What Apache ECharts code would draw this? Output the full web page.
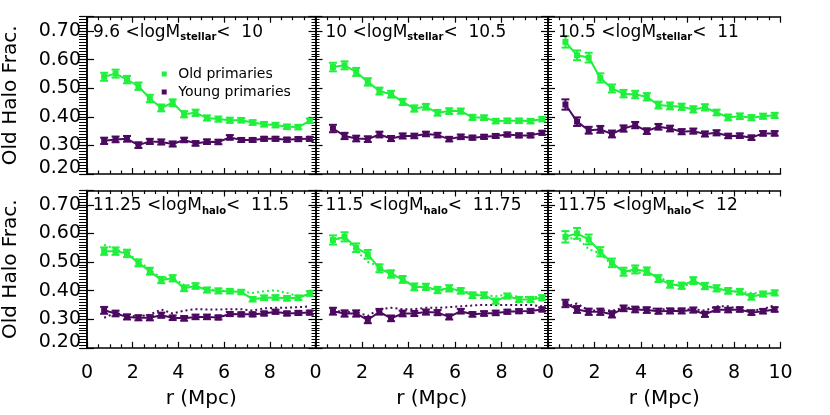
<!DOCTYPE html>
<html><head><meta charset="utf-8">
<script src="https://cdn.jsdelivr.net/npm/echarts@6/dist/echarts.min.js"></script>
<style>html,body{margin:0;padding:0;background:#fff}#c{width:830px;height:415px}</style>
</head><body><div id="c"></div>
<script>
// ---- data ----
const r = [0.75,1.25,1.75,2.25,2.75,3.25,3.75,4.25,4.75,5.25,5.75,6.25,6.75,7.25,7.75,8.25,8.75,9.25,9.75];
const xTicks = [0,2,4,6,8,10];
const yTicks = [0.20,0.30,0.40,0.50,0.60,0.70];

const oldP1 = [0.540,0.551,0.530,0.507,0.464,0.431,0.449,0.409,0.414,0.396,0.392,0.388,0.388,0.380,0.374,0.371,0.365,0.364,0.386];
const oldE1 = [0.014,0.014,0.013,0.013,0.013,0.012,0.012,0.011,0.011,0.009,0.009,0.009,0.008,0.008,0.008,0.008,0.008,0.008,0.008];
const youngP1 = [0.316,0.321,0.323,0.301,0.314,0.312,0.305,0.319,0.307,0.313,0.312,0.328,0.319,0.319,0.323,0.323,0.320,0.322,0.323];
const youngE1 = [0.011,0.010,0.010,0.010,0.009,0.009,0.009,0.008,0.008,0.008,0.008,0.008,0.007,0.007,0.007,0.007,0.007,0.007,0.007];

const oldP2 = [0.574,0.580,0.557,0.522,0.490,0.479,0.452,0.429,0.435,0.414,0.420,0.420,0.398,0.397,0.385,0.386,0.386,0.385,0.392];
const oldE2 = [0.015,0.014,0.014,0.013,0.012,0.012,0.011,0.011,0.010,0.010,0.010,0.009,0.009,0.008,0.008,0.008,0.008,0.008,0.008];
const youngP2 = [0.359,0.333,0.324,0.322,0.338,0.324,0.333,0.333,0.340,0.336,0.322,0.330,0.327,0.330,0.333,0.338,0.335,0.335,0.344];
const youngE2 = [0.013,0.011,0.010,0.010,0.010,0.009,0.009,0.008,0.008,0.008,0.008,0.008,0.007,0.007,0.007,0.007,0.007,0.007,0.007];

const oldP3 = [0.662,0.615,0.607,0.536,0.499,0.481,0.478,0.470,0.441,0.438,0.435,0.426,0.433,0.415,0.398,0.402,0.397,0.402,0.405];
const oldE3 = [0.020,0.017,0.017,0.016,0.014,0.013,0.013,0.013,0.012,0.012,0.011,0.011,0.011,0.010,0.010,0.010,0.009,0.009,0.009];
const youngP3 = [0.443,0.383,0.353,0.356,0.340,0.359,0.371,0.350,0.365,0.359,0.348,0.350,0.340,0.344,0.333,0.334,0.327,0.342,0.342];
const youngE3 = [0.018,0.015,0.012,0.012,0.012,0.011,0.011,0.010,0.010,0.010,0.009,0.009,0.009,0.009,0.008,0.008,0.008,0.008,0.008];

const oldP4 = [0.538,0.538,0.530,0.497,0.468,0.437,0.443,0.408,0.416,0.402,0.399,0.398,0.395,0.370,0.375,0.376,0.373,0.375,0.390];
const oldD4 = [0.560,0.545,0.530,0.505,0.472,0.445,0.445,0.420,0.415,0.405,0.400,0.398,0.396,0.392,0.398,0.401,0.392,0.380,0.385];
const oldE4 = [0.013,0.013,0.013,0.012,0.012,0.011,0.011,0.010,0.010,0.009,0.009,0.008,0.008,0.008,0.008,0.008,0.008,0.008,0.008];
const youngP4 = [0.331,0.320,0.308,0.305,0.305,0.314,0.305,0.303,0.308,0.308,0.306,0.318,0.317,0.317,0.320,0.326,0.320,0.322,0.323];
const youngD4 = [0.305,0.322,0.312,0.310,0.316,0.334,0.320,0.330,0.335,0.334,0.334,0.335,0.335,0.330,0.338,0.340,0.340,0.342,0.345];
const youngE4 = [0.012,0.010,0.009,0.009,0.009,0.009,0.008,0.008,0.008,0.008,0.007,0.007,0.007,0.007,0.007,0.007,0.007,0.007,0.007];

const oldP5 = [0.577,0.588,0.550,0.527,0.478,0.458,0.439,0.413,0.413,0.402,0.408,0.399,0.384,0.384,0.363,0.381,0.369,0.369,0.375];
const oldD5 = [0.578,0.585,0.540,0.500,0.485,0.460,0.440,0.415,0.410,0.402,0.400,0.400,0.390,0.385,0.380,0.386,0.378,0.378,0.378];
const oldE5 = [0.016,0.016,0.015,0.015,0.014,0.013,0.012,0.012,0.011,0.011,0.011,0.010,0.010,0.010,0.009,0.009,0.009,0.009,0.009];
const youngP5 = [0.328,0.320,0.320,0.297,0.326,0.303,0.320,0.320,0.325,0.323,0.308,0.328,0.317,0.320,0.322,0.326,0.328,0.329,0.334];
const youngD5 = [0.330,0.325,0.325,0.312,0.335,0.340,0.335,0.335,0.340,0.340,0.342,0.345,0.348,0.350,0.350,0.350,0.350,0.350,0.345];
const youngE5 = [0.012,0.011,0.011,0.011,0.010,0.010,0.010,0.009,0.009,0.009,0.009,0.008,0.008,0.008,0.008,0.007,0.007,0.007,0.007];

const oldP6 = [0.588,0.600,0.579,0.536,0.497,0.466,0.474,0.468,0.442,0.422,0.417,0.435,0.416,0.408,0.399,0.396,0.378,0.388,0.392];
const oldD6 = [0.580,0.585,0.545,0.530,0.490,0.470,0.465,0.460,0.450,0.425,0.415,0.425,0.420,0.405,0.400,0.395,0.392,0.390,0.390];
const oldE6 = [0.020,0.019,0.017,0.016,0.015,0.014,0.014,0.013,0.012,0.012,0.011,0.012,0.011,0.011,0.010,0.010,0.010,0.009,0.009];
const youngP6 = [0.355,0.334,0.326,0.326,0.317,0.338,0.334,0.332,0.328,0.329,0.329,0.332,0.317,0.334,0.332,0.334,0.323,0.328,0.334];
const youngD6 = [0.345,0.355,0.330,0.330,0.330,0.340,0.340,0.340,0.335,0.335,0.335,0.335,0.330,0.345,0.345,0.335,0.330,0.335,0.350];
const youngE6 = [0.013,0.012,0.011,0.011,0.011,0.010,0.010,0.010,0.009,0.009,0.009,0.009,0.009,0.008,0.008,0.008,0.008,0.008,0.008];

const panelLo = ['9.6','10','10.5','11.25','11.5','11.75'];
const panelHi = ['10','10.5','11','11.5','11.75','12'];
const panelSub = ['stellar','stellar','stellar','halo','halo','halo'];
const seriesNames = ['Old primaries','Young primaries'];
const yTitle = 'Old Halo Frac.';
const xTitle = 'r (Mpc)';

// ---- styling / layout ----
const GREEN = '#1ff03c', PURPLE = '#4b0a5f';
const FONT = 'DejaVu Sans';
const colLeft = [83, 315.5, 548], colW = 232.5;
const rowTop = [16.7, 190.5], rowH = 157.3;

const panels = [
  {old:oldP1, oldE:oldE1, young:youngP1, youngE:youngE1},
  {old:oldP2, oldE:oldE2, young:youngP2, youngE:youngE2},
  {old:oldP3, oldE:oldE3, young:youngP3, youngE:youngE3},
  {old:oldP4, oldE:oldE4, young:youngP4, youngE:youngE4, oldD:oldD4, youngD:youngD4},
  {old:oldP5, oldE:oldE5, young:youngP5, youngE:youngE5, oldD:oldD5, youngD:youngD5},
  {old:oldP6, oldE:oldE6, young:youngP6, youngE:youngE6, oldD:oldD6, youngD:youngD6}
];

const grid = [], xAxis = [], yAxis = [], series = [], title = [];
const axLine = {show:true, lineStyle:{color:'#000', width:1.5}};

panels.forEach((p, g) => {
  const col = g % 3, row = Math.floor(g / 3);
  const rect = {left: colLeft[col], top: rowTop[row], width: colW, height: rowH};
  grid.push(Object.assign({}, rect), Object.assign({}, rect));
  const gi = 2 * g, go = 2 * g + 1;
  const xBase = {gridIndex: gi, type:'value', min: xTicks[0], max: xTicks[xTicks.length-1], interval: 2,
    axisLine: axLine, splitLine:{show:false},
    axisTick:{show:true, inside:true, length:6, lineStyle:{color:'#000', width:1.2}},
    minorTick:{show:true, splitNumber:4, length:3.5, lineStyle:{color:'#000', width:1.2}}};
  xAxis.push(Object.assign({}, xBase, {position:'bottom',
    axisLabel:{show: row === 1, color:'#000', fontFamily:FONT, fontSize:19, margin:16,
      formatter: v => (col < 2 && v === 10) ? '' : String(v)},
    name: row === 1 ? xTitle : '', nameLocation:'middle', nameGap:41,
    nameTextStyle:{color:'#000', fontFamily:FONT, fontSize:20}}));
  xAxis.push(Object.assign({}, xBase, {position:'top', axisLabel:{show:false}}));
  const yBase = {gridIndex: gi, type:'value', min:0.2, max:0.75, interval:0.1,
    axisLine: axLine, splitLine:{show:false},
    axisTick:{show:true, inside:true, length:7, lineStyle:{color:'#000', width:1.2}}};
  yAxis.push(Object.assign({}, yBase, {position:'left',
    axisLabel:{show: col === 0, color:'#000', fontFamily:FONT, fontSize:19, margin:6,
      formatter: v => v > 0.72 ? '' : (Math.abs(v - 0.2) < 1e-6 ? '{lo|0.20}' : v.toFixed(2)),
      rich:{lo:{fontFamily:FONT, fontSize:19, color:'#000', padding:[0,0,12,0]}}},
    name: col === 0 ? yTitle : '', nameLocation:'middle', nameGap:66,
    nameTextStyle:{color:'#000', fontFamily:FONT, fontSize:20}}));
  yAxis.push(Object.assign({}, yBase, {position:'right', axisLabel:{show:false}}));
  // overlay grid: fine y ticks every 0.01 on both sides
  xAxis.push({gridIndex: go, type:'value', min:0, max:10, show:false});
  xAxis.push({gridIndex: go, type:'value', min:0, max:10, show:false, position:'top'});
  const yMinor = {gridIndex: go, type:'value', min:0.2, max:0.75, interval:0.01, show:true,
    axisLine:{show:false}, splitLine:{show:false}, axisLabel:{show:false},
    axisTick:{show:true, inside:true, length:4, lineStyle:{color:'#000', width:1}}};
  yAxis.push(Object.assign({}, yMinor, {position:'left'}));
  yAxis.push(Object.assign({}, yMinor, {position:'right'}));

  const xi = 4 * g, yi = 4 * g;
  const addSet = (vals, errs, dotted, color, name) => {
    if (dotted) {
      series.push({type:'line', xAxisIndex:xi, yAxisIndex:yi, symbol:'none', silent:true,
        data: r.map((x,i)=>[x, dotted[i]]),
        lineStyle:{color, width:2, type:[2,3]}, z:2});
    }
    series.push({type:'custom', xAxisIndex:xi, yAxisIndex:yi, silent:true, z:3,
      data: r.map((x,i)=>[x, vals[i], errs[i]]),
      renderItem: (params, api) => {
        const x = api.value(0), y = api.value(1), e = api.value(2);
        const lo = api.coord([x, y - e]), hi = api.coord([x, y + e]);
        const w = 4, st = {stroke: color, lineWidth: 2};
        return {type:'group', children:[
          {type:'line', shape:{x1:lo[0], y1:lo[1], x2:hi[0], y2:hi[1]}, style:st},
          {type:'line', shape:{x1:lo[0]-w, y1:lo[1], x2:lo[0]+w, y2:lo[1]}, style:st},
          {type:'line', shape:{x1:hi[0]-w, y1:hi[1], x2:hi[0]+w, y2:hi[1]}, style:st}
        ]};
      }});
    series.push({type:'line', name, xAxisIndex:xi, yAxisIndex:yi, data: r.map((x,i)=>[x, vals[i]]),
      symbol:'rect', symbolSize:6, showSymbol:true, lineStyle:{color, width:2}, itemStyle:{color}, z:4});
  };
  addSet(p.old, p.oldE, p.oldD, GREEN, seriesNames[0]);
  addSet(p.young, p.youngE, p.youngD, PURPLE, seriesNames[1]);

  title.push({left: colLeft[col] + 10, top: rowTop[row] + 5, padding:0,
    text: '{n|' + panelLo[g] + ' <logM}{s|' + panelSub[g] + '}{n|<  ' + panelHi[g] + '}',
    textStyle:{fontWeight:'normal', rich:{
      n:{fontFamily:FONT, fontSize:17, fontWeight:'normal', color:'#000', lineHeight:21},
      s:{fontFamily:FONT, fontSize:10, fontWeight:'bold', color:'#000', verticalAlign:'bottom', lineHeight:21, padding:[5,0,0,0]}
    }}});
});

const chart = echarts.init(document.getElementById('c'), null, {renderer:'canvas'});
chart.setOption({
  animation:false,
  backgroundColor:'#fff',
  title,
  legend:{left:156.7, top:62, orient:'vertical', itemWidth:18, itemHeight:5, itemGap:4,
    selectedMode:false,
    data: seriesNames.map(n => ({name:n, icon:'path://M0 0H10V10H0Z'})),
    textStyle:{fontFamily:FONT, fontSize:14, color:'#000'}},
  grid, xAxis, yAxis, series
});
</script></body></html>
